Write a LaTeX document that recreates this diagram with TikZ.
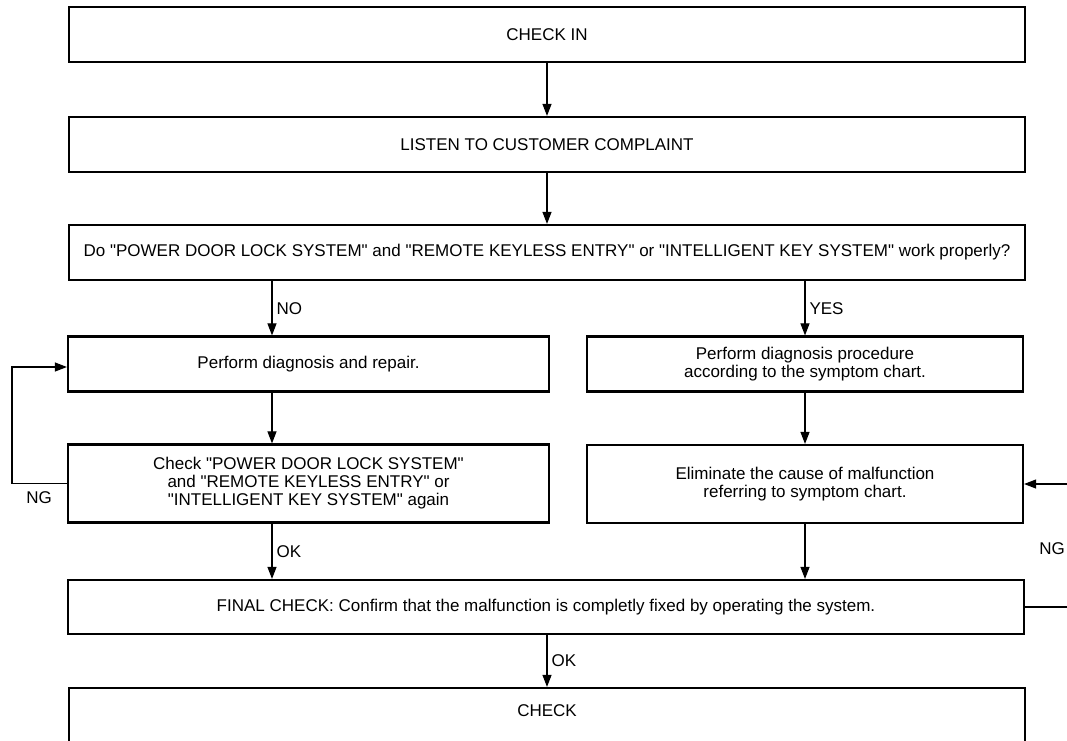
\documentclass[tikz,border=0pt]{standalone}
\usepackage{fontspec}
\setmainfont{Liberation Sans}[Ligatures=TeXOff]
\usetikzlibrary{arrows.meta,positioning,calc}

\begin{document}
\begin{tikzpicture}[x=1pt,y=-1pt,>={Triangle[length=12pt,width=9pt]},
    every node/.style={font=\fontsize{17}{18}\selectfont},
    stepbox/.style={draw=black, line width=2.2pt, align=center, inner sep=0pt},
    flow/.style={->, line width=1.1pt},
    tag/.style={right=3pt, inner sep=1pt}]
  \useasboundingbox (0,0) rectangle (1067,740);
  \clip (0,0) rectangle (1067,740);
  \node[stepbox, minimum width=956pt, minimum height=55pt] (checkin) at (547,34.5) {CHECK IN};
  \node[stepbox, minimum width=956pt, minimum height=55pt] (listen) at (547,144.5) {LISTEN TO CUSTOMER COMPLAINT};
  \node[stepbox, minimum width=956pt, minimum height=55pt] (ask) at (547,252.5)
    {Do "POWER DOOR LOCK SYSTEM" and "REMOTE KEYLESS ENTRY" or "INTELLIGENT KEY SYSTEM" work properly?};
  \node[stepbox, minimum width=481pt, minimum height=55pt] (repair) at (308.5,364) {Perform diagnosis and repair.};
  \node[stepbox, minimum width=436pt, minimum height=55pt] (procedure) at (805,364)
    {Perform diagnosis procedure\\according to the symptom chart.};
  \node[stepbox, minimum width=481pt, minimum height=78pt] (recheck) at (308.5,483.5)
    {Check "POWER DOOR LOCK SYSTEM"\\and "REMOTE KEYLESS ENTRY" or\\"INTELLIGENT KEY SYSTEM" again};
  \node[stepbox, minimum width=436pt, minimum height=78pt] (eliminate) at (805,484)
    {Eliminate the cause of malfunction\\referring to symptom chart.};
  \node[stepbox, minimum width=956pt, minimum height=54pt] (final) at (546,607)
    {FINAL CHECK: Confirm that the malfunction is completly fixed by operating the system.};
  \node[stepbox, minimum width=956pt, minimum height=90pt] (done) at (547,733) {};
  \node at (547,711) {CHECK};
  \coordinate (noX) at (272,0);
  \coordinate (loopL) at (12,0);
  \coordinate (loopR) at (1080,0);
  \draw[flow] (checkin) -- (listen);
  \draw[flow] (listen) -- (ask);
  \draw[flow] (ask.south -| noX) -- (repair.north -| noX) node[midway, tag] {NO};
  \draw[flow] (ask.south -| procedure) -- (procedure.north) node[midway, tag] {YES};
  \draw[flow] (repair.south -| noX) -- (recheck.north -| noX);
  \draw[flow] (procedure) -- (eliminate);
  \draw[flow] (recheck.south -| noX) -- (final.north -| noX) node[midway, tag] {OK};
  \draw[flow] (eliminate.south) -- (final.north -| eliminate);
  \draw[flow] (final.south -| done) -- (done.north) node[midway, tag] {OK};
  \draw[flow] (recheck.west) -- (recheck.west -| loopL) |- ([yshift=-3pt]repair.west);
  \node (ngL) at (39,498) {NG};
  \draw[line width=1.1pt] (final.east) -- (final.east -| loopR);
  \draw[flow] (eliminate.east -| loopR) -- (eliminate.east);
  \node[anchor=east, inner sep=1pt] (ngR) at (1066,549) {NG};
\end{tikzpicture}
\end{document}
